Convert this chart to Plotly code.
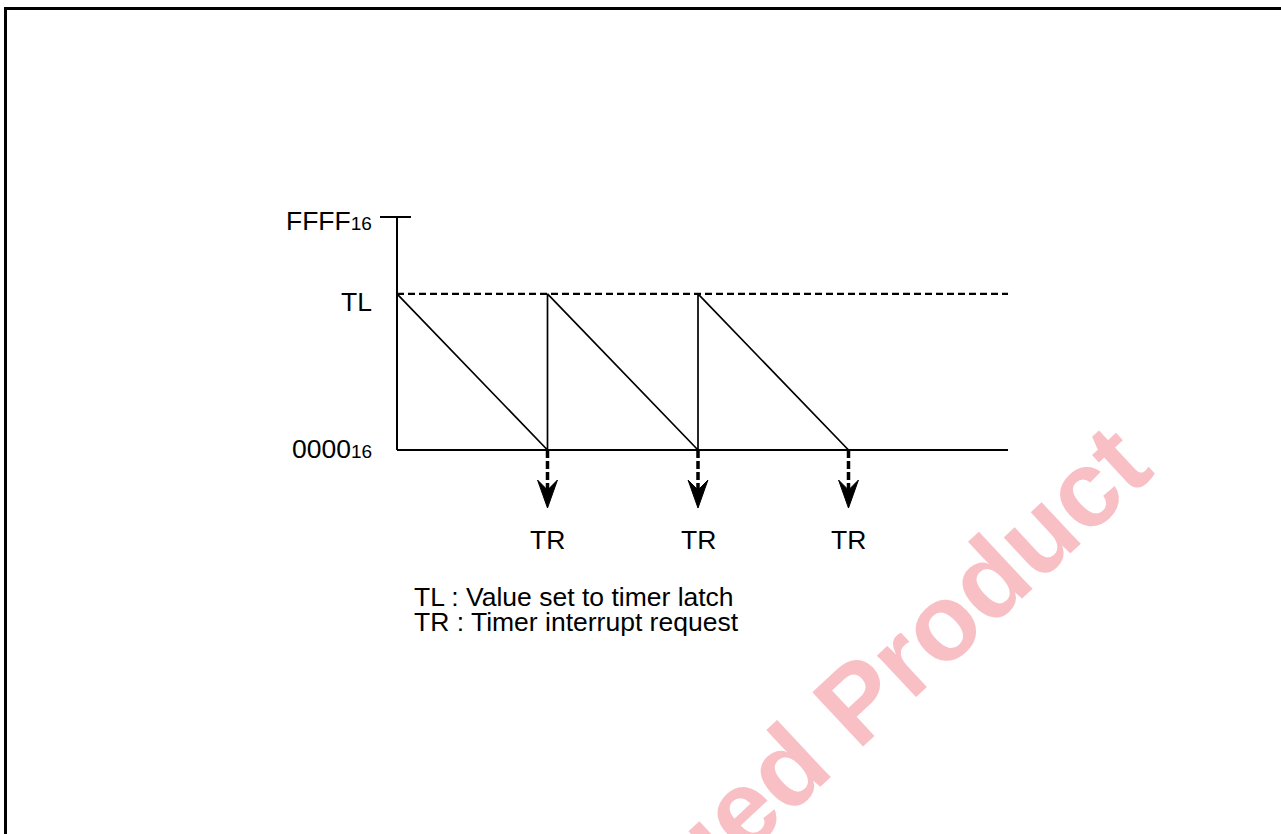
import plotly.graph_objects as go

# ---- data (normalized: 0000h = 0, FFFFh = 1, one timer period = 1) ----
ffff_level = 1.0
tl_level = 0.67
reload_times = [0, 1, 2]        # counter reloaded with TL
underflow_times = [1, 2, 3]     # counter reaches 0000h -> TR
x_end = 4.06
level_labels = ["FFFF<span style='font-size:19px'>16</span>", "TL",
                "0000<span style='font-size:19px'>16</span>"]
level_values = [ffff_level, tl_level, 0.0]
tr_label = "TR"
legend_lines = ["TL : Value set to timer latch", "TR : Timer interrupt request"]
watermark = "Discontinued Product"

FONT = "Liberation Sans, Arial, sans-serif"
BLACK = "#000000"
FS = 26.5

# pixel scale of the layout
W, H = 1281, 834
X0_PX, X_UNIT = 397, 150.5
Y0_PX, Y_UNIT = 450, 233

fig = go.Figure()

# sawtooth count
saw_x, saw_y = [], []
for r, u in zip(reload_times, underflow_times):
    saw_x += [r, u]
    saw_y += [tl_level, 0.0]
fig.add_trace(go.Scatter(x=saw_x, y=saw_y, mode="lines",
                         line=dict(color=BLACK, width=1.7), hoverinfo="skip"))

# vertical axis
fig.add_trace(go.Scatter(x=[0, 0], y=[0, ffff_level], mode="lines",
                         line=dict(color=BLACK, width=2), hoverinfo="skip"))
# FFFF tick
fig.add_trace(go.Scatter(x=[-0.113, 0.093], y=[ffff_level, ffff_level], mode="lines",
                         line=dict(color=BLACK, width=2), hoverinfo="skip"))
# baseline
fig.add_trace(go.Scatter(x=[0, x_end], y=[0, 0], mode="lines",
                         line=dict(color=BLACK, width=2), hoverinfo="skip"))
# TL dashed level
fig.add_trace(go.Scatter(x=[0, x_end], y=[tl_level, tl_level], mode="lines",
                         line=dict(color=BLACK, width=2.2, dash="7px,4px"), hoverinfo="skip"))

# TR arrows
shaft_end = -0.172
tip = -0.249
back = -0.129
half_w = 0.066
for u in underflow_times:
    fig.add_trace(go.Scatter(x=[u, u], y=[0, shaft_end], mode="lines",
                             line=dict(color=BLACK, width=3.5, dash="8px,3px"),
                             hoverinfo="skip"))
    fig.add_trace(go.Scatter(x=[u, u - half_w, u, u + half_w, u],
                             y=[tip, back, shaft_end, back, tip],
                             mode="lines", fill="toself", fillcolor=BLACK,
                             line=dict(color=BLACK, width=1), hoverinfo="skip"))

annotations = []
# level labels
label_y = {0: 0.985, 1: 0.635, 2: 0.006}
for i, (lab, val) in enumerate(zip(level_labels, level_values)):
    annotations.append(dict(x=-0.153, y=label_y[i], xref="x", yref="y", text=lab,
                            showarrow=False, xanchor="right", yanchor="middle",
                            font=dict(family=FONT, size=FS, color=BLACK)))
# TR labels
for u in underflow_times:
    annotations.append(dict(x=u, y=-0.386, xref="x", yref="y", text=tr_label,
                            showarrow=False, xanchor="center", yanchor="middle",
                            font=dict(family=FONT, size=FS, color=BLACK)))
# legend lines
for k, line in enumerate(legend_lines):
    annotations.append(dict(x=0.1, y=-0.631 - 0.107 * k, xref="x", yref="y", text=line,
                            showarrow=False, xanchor="left", yanchor="middle",
                            font=dict(family=FONT, size=FS, color=BLACK)))
# watermark
annotations.append(dict(x=720 / W, y=1 - 828 / H, xref="paper", yref="paper",
                        text="<b>" + watermark + "</b>", showarrow=False,
                        textangle=-43, xanchor="center", yanchor="middle",
                        font=dict(family=FONT, size=108, color="rgb(248,192,197)")))

shapes = [dict(type="rect", xref="paper", yref="paper",
               x0=5.5 / W, y0=1 - 8.5 / H, x1=1.2, y1=-0.2,
               line=dict(color=BLACK, width=3), layer="above")]

fig.update_layout(
    width=W, height=H, margin=dict(l=0, r=0, t=0, b=0),
    paper_bgcolor="white", plot_bgcolor="white", showlegend=False,
    xaxis=dict(range=[-X0_PX / X_UNIT, (W - X0_PX) / X_UNIT], visible=False, fixedrange=True),
    yaxis=dict(range=[-(H - Y0_PX) / Y_UNIT, Y0_PX / Y_UNIT], visible=False, fixedrange=True),
    annotations=annotations, shapes=shapes,
)

fig.write_html("out.html", config={"displayModeBar": False},
               post_script="document.body.style.margin='0';document.body.style.overflow='hidden';")
